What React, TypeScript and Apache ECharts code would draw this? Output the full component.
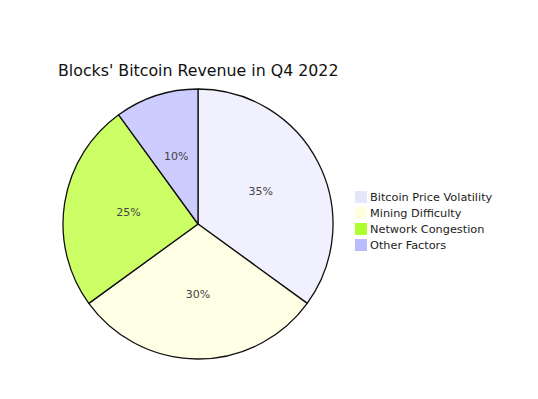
import React, { useEffect, useRef } from "react";
import * as echarts from "echarts";

const categories = ["Bitcoin Price Volatility", "Mining Difficulty", "Network Congestion", "Other Factors"];
const values = [35, 30, 25, 10];
const colors = ["#F0F0FF", "#FFFFE6", "#CCFF66", "#CCCCFF"];
const legendColors = ["#E6E6FA", "#FFFFE0", "#ADFF2F", "#BBBBFF"];
const titleText = "Blocks' Bitcoin Revenue in Q4 2022";

export default function App() {
  const ref = useRef<HTMLDivElement>(null);
  useEffect(() => {
    if (!ref.current) return;
    const chart = echarts.init(ref.current, null, { renderer: "svg" });
    const font = "'DejaVu Sans', Verdana, sans-serif";
    chart.setOption({
      animation: false,
      backgroundColor: "#fff",
      title: {
        text: titleText,
        left: 58,
        top: 62,
        padding: 0,
        textStyle: { fontFamily: font, fontSize: 15.8, fontWeight: "normal", color: "#111" },
      },
      legend: {
        orient: "vertical",
        left: 355,
        top: 191,
        padding: 0,
        itemWidth: 12,
        itemHeight: 12,
        itemGap: 4,
        icon: "rect",
        textStyle: { fontFamily: font, fontSize: 11.3, color: "#222", lineHeight: 12, padding: [0, 0, 0, -2] },
        data: categories.map((c, i) => ({
          name: c,
          itemStyle: { color: legendColors[i], borderWidth: 0 },
        })),
      },
      series: [
        {
          type: "pie",
          center: [198, 224],
          radius: 135,
          startAngle: 90,
          clockwise: true,
          label: {
            show: true,
            position: "inside",
            formatter: "{c}%",
            fontFamily: font,
            fontSize: 11,
            color: "#444",
          },
          labelLine: { show: false },
          itemStyle: { borderColor: "#111", borderWidth: 1.3 },
          emphasis: { disabled: true },
          data: categories.map((c, i) => ({
            name: c,
            value: values[i],
            itemStyle: { color: colors[i] },
          })),
        },
      ],
    });
    return () => chart.dispose();
  }, []);
  return <div ref={ref} style={{ width: 538, height: 399, margin: -8 }} />;
}
